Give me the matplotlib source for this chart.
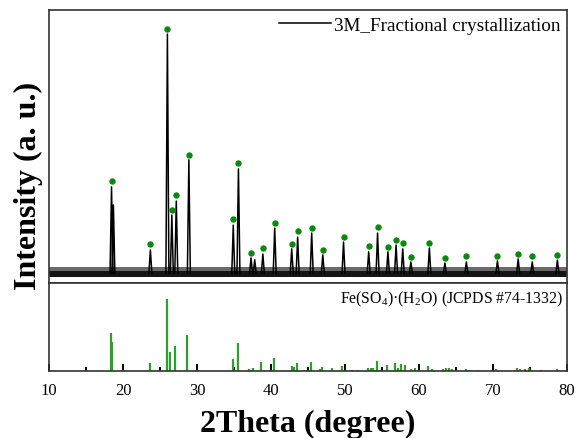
import numpy as np
import matplotlib
matplotlib.use("Agg")
import matplotlib.pyplot as plt

plt.rcParams['font.family'] = ['Liberation Serif', 'DejaVu Serif']
plt.rcParams['mathtext.fontset'] = 'custom'
plt.rcParams['mathtext.rm'] = 'Liberation Serif'

# ---- data ----
# measured pattern: peak positions (2theta) and peak heights (a.u., axis fraction)
peak_pos = [18.45, 18.7, 23.7, 26.0, 26.6, 27.2, 28.9, 34.9, 35.6, 37.3, 37.8,
            38.9, 40.5, 42.8, 43.6, 45.5, 47.0, 49.8, 53.2, 54.4, 55.8, 56.9,
            57.8, 58.9, 61.4, 63.5, 66.4, 70.6, 73.4, 75.3, 78.7]
peak_height = [0.352, 0.286, 0.121, 0.912, 0.249, 0.300, 0.451, 0.212, 0.418,
               0.092, 0.085, 0.106, 0.201, 0.125, 0.168, 0.183, 0.103, 0.150,
               0.114, 0.183, 0.114, 0.139, 0.125, 0.077, 0.128, 0.073, 0.077,
               0.081, 0.088, 0.077, 0.084]
# background noise band: dense core and sparse upper fringe
noise_x = [10.0, 80.0]
noise_lo = [0.022, 0.022]
noise_mid = [0.043, 0.043]
noise_hi = [0.060, 0.060]

# green markers over identified peaks
dot_pos = [18.47, 23.7, 26.0, 26.6, 27.2, 28.9, 34.9, 35.6, 37.3, 38.9, 40.5,
           42.8, 43.6, 45.5, 47.0, 49.8, 53.2, 54.4, 55.8, 56.9, 57.8, 58.9,
           61.4, 63.5, 66.4, 70.6, 73.4, 75.3, 78.7]
dot_y = [0.375, 0.143, 0.929, 0.268, 0.322, 0.470, 0.233, 0.438, 0.110, 0.127,
         0.221, 0.144, 0.189, 0.203, 0.121, 0.170, 0.134, 0.205, 0.133, 0.159,
         0.145, 0.096, 0.148, 0.093, 0.098, 0.100, 0.107, 0.098, 0.103]

# reference card JCPDS #74-1332: positions and relative intensities
ref_pos = [18.34, 18.5, 23.6, 25.9, 26.4, 27.0, 28.7, 34.8, 35.5, 37.0, 37.6,
           38.6, 40.4, 42.8, 43.1, 43.5, 44.4, 45.4, 46.6, 46.9, 48.2, 49.6,
           51.0, 51.8, 53.1, 53.5, 53.8, 54.3, 55.7, 56.7, 57.2, 57.6, 58.1,
           58.9, 59.5, 61.2, 61.7, 63.3, 63.7, 64.0, 64.5, 66.3, 66.7, 68.0,
           70.35, 73.2, 73.6, 74.3, 74.8, 76.5, 78.6]
ref_int = [53, 40, 11, 100, 26, 35, 50, 17, 39, 3, 4,
           12.5, 18, 7, 5.5, 11, 1.5, 12.5, 3, 5.5, 3.5, 7,
           1.5, 1.5, 4, 4, 4, 14, 8, 11, 4, 10, 8,
           3, 4, 7, 3, 3, 4, 4, 3, 3, 2, 1.5,
           3, 4, 3, 3, 4, 1.5, 3]

x_ticks = [10, 20, 30, 40, 50, 60, 70, 80]
sample_label = "3M_Fractional crystallization"
ref_label = r"Fe(SO$_\mathrm{4}$)·(H$_\mathrm{2}$O) (JCPDS #74-1332)"

# ---- figure ----
W, H = 575, 439
fig = plt.figure(figsize=(W / 100, H / 100), dpi=100)
L, R = 49 / W, 567 / W
ax1 = fig.add_axes([L, 1 - 284 / H, R - L, (284 - 11) / H])
ax2 = fig.add_axes([L, 1 - 372 / H, R - L, (372 - 284) / H], sharex=ax1)

# top panel
ax1.fill_between(noise_x, noise_lo, noise_mid, color='#141414', lw=0)
ax1.fill_between(noise_x, noise_mid, noise_hi, color='#6a6a6a', lw=0)
half_w = 0.2
base = 0.036
px, py = [], []
for p, h in zip(peak_pos, peak_height):
    px += [p - half_w, p, p + half_w, np.nan]
    py += [base, h, base, np.nan]
ax1.plot(px, py, color='black', lw=1.1, label=sample_label)
ax1.plot(dot_pos, dot_y, 'o', color='#0a8a0a', ms=4.6, mec='none')
ax1.set_ylim(0, 1)
ax1.set_xlim(10, 80)
ax1.tick_params(axis='both', which='both', length=0, labelbottom=False, labelleft=False)
leg = ax1.legend(loc='upper right', frameon=False, fontsize=13.8,
                 handlelength=2.7, handletextpad=0.15, borderaxespad=0.15,
                 borderpad=0.2)

# bottom panel
ax2.vlines(ref_pos, 0, ref_int, color='#2e9e2e', lw=1.6)
ax2.set_ylim(0, 122)
ax2.set_xticks(x_ticks)
ax2.set_xticks(np.arange(15, 80, 10), minor=True)
ax2.tick_params(axis='x', which='major', direction='in', length=5.2, width=1.4,
                pad=8, labelsize=12)
ax2.tick_params(axis='x', which='minor', direction='in', length=2.8, width=1.4)
ax2.tick_params(axis='y', which='both', length=0, labelleft=False)
ax2.text(0.992, 0.83, ref_label, transform=ax2.transAxes, ha='right',
         va='center', fontsize=11.3)

for ax in (ax1, ax2):
    for s in ax.spines.values():
        s.set_linewidth(1.2)
        s.set_color('#333333')

fig.text((L + R) / 2, 1 - 432 / H, "2Theta (degree)", ha='center',
         va='baseline', fontsize=23, fontweight='bold')
fig.text(28 / W, 1 - 186 / H, "Intensity (a. u.)", ha='center', va='center',
         rotation=90, fontsize=23, fontweight='bold')

fig.savefig("out.png", dpi=100)
